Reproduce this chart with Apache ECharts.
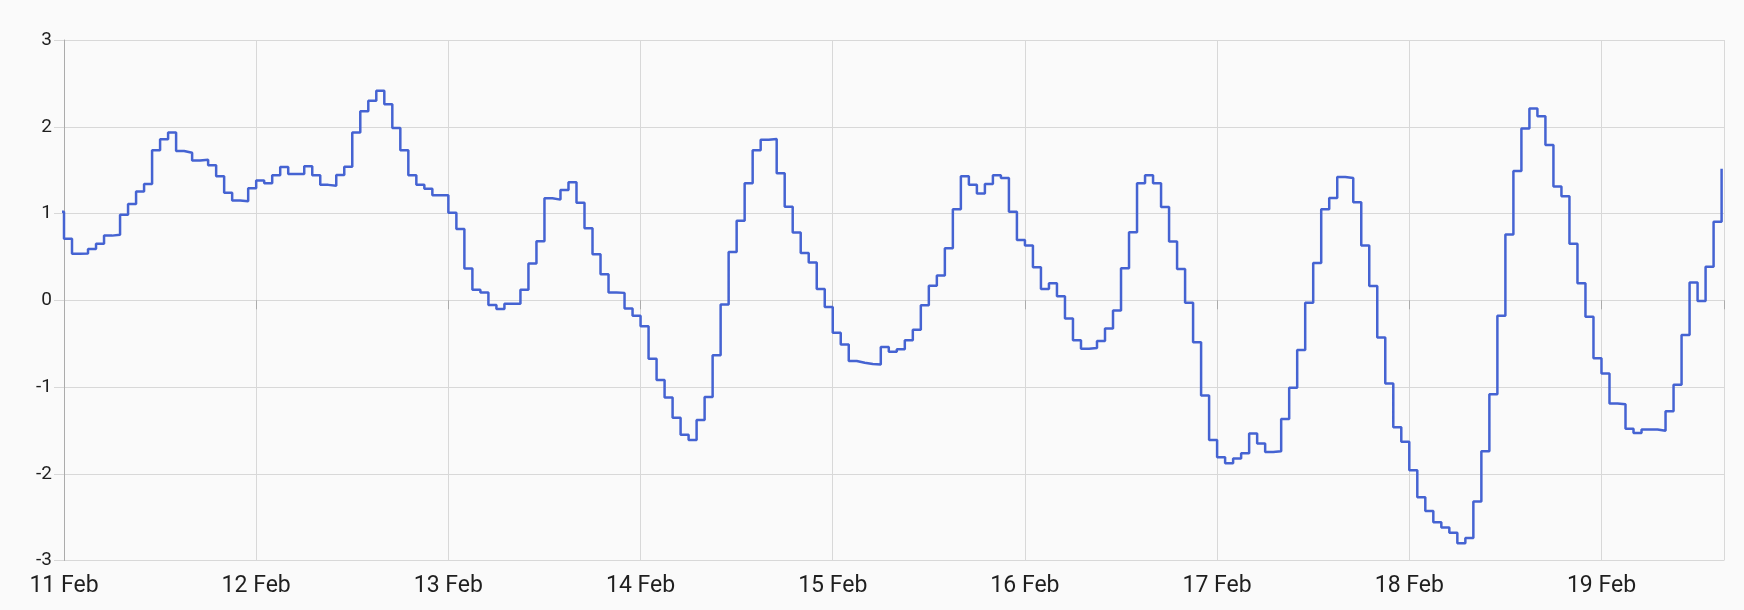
<!DOCTYPE html>
<html>
<head>
<meta charset="utf-8">
<script src="https://cdn.jsdelivr.net/npm/echarts@6/dist/echarts.min.js"></script>
<style>
  html, body { margin: 0; padding: 0; background: #fafafa; }
  #chart { width: 1744px; height: 610px; }
</style>
</head>
<body>
<div id="chart"></div>
<script>
// Tick labels (one per day, x position = day index * 24 hours)
const dayLabels = ['11 Feb', '12 Feb', '13 Feb', '14 Feb', '15 Feb', '16 Feb', '17 Feb', '18 Feb', '19 Feb'];
const yTicks = [-3, -2, -1, 0, 1, 2, 3];

// Hourly values; the value at 10 Feb 23:00 precedes the visible range
const lastHourBefore = 1.02;
const feb11 = [0.71, 0.535, 0.54, 0.59, 0.65, 0.745, 0.755, 0.985, 1.11, 1.255, 1.34, 1.73, 1.855, 1.935, 1.72, 1.70, 1.61, 1.62, 1.555, 1.43, 1.24, 1.15, 1.14, 1.29];
const feb12 = [1.38, 1.35, 1.44, 1.535, 1.455, 1.455, 1.545, 1.44, 1.33, 1.32, 1.445, 1.54, 1.935, 2.18, 2.30, 2.415, 2.26, 1.985, 1.73, 1.44, 1.33, 1.285, 1.21, 1.21];
const feb13 = [1.01, 0.82, 0.365, 0.12, 0.09, -0.055, -0.10, -0.04, -0.04, 0.12, 0.425, 0.68, 1.175, 1.16, 1.27, 1.36, 1.125, 0.83, 0.53, 0.30, 0.09, 0.085, -0.095, -0.18];
const feb14 = [-0.30, -0.675, -0.92, -1.12, -1.355, -1.55, -1.61, -1.38, -1.115, -0.635, -0.05, 0.557, 0.917, 1.35, 1.73, 1.85, 1.86, 1.465, 1.078, 0.78, 0.545, 0.435, 0.13, -0.077];
const feb15 = [-0.375, -0.51, -0.70, -0.72, -0.735, -0.74, -0.54, -0.595, -0.565, -0.46, -0.34, -0.057, 0.167, 0.284, 0.60, 1.05, 1.43, 1.33, 1.23, 1.34, 1.44, 1.41, 1.02, 0.695];
const feb16 = [0.63, 0.38, 0.13, 0.197, 0.045, -0.21, -0.46, -0.56, -0.55, -0.47, -0.325, -0.117, 0.37, 0.784, 1.35, 1.44, 1.35, 1.076, 0.678, 0.36, -0.03, -0.485, -1.097, -1.61];
const feb17 = [-1.81, -1.88, -1.825, -1.765, -1.535, -1.65, -1.75, -1.74, -1.37, -1.008, -0.574, -0.03, 0.428, 1.05, 1.18, 1.42, 1.41, 1.13, 0.63, 0.163, -0.43, -0.96, -1.465, -1.63];
const feb18 = [-1.96, -2.27, -2.43, -2.56, -2.62, -2.68, -2.80, -2.74, -2.32, -1.74, -1.085, -0.18, 0.758, 1.49, 1.98, 2.21, 2.12, 1.79, 1.31, 1.20, 0.65, 0.197, -0.19, -0.67];
const feb19 = [-0.845, -1.19, -1.20, -1.48, -1.53, -1.49, -1.49, -1.505, -1.28, -0.973, -0.40, 0.205, -0.01, 0.386, 0.905, 1.515];

const days = [feb11, feb12, feb13, feb14, feb15, feb16, feb17, feb18, feb19];
const seriesData = [[-1, lastHourBefore]];
days.forEach(function (arr, d) {
  arr.forEach(function (v, h) { seriesData.push([d * 24 + h, v]); });
});

const X_MAX = 207.3; // axis ends a little after 19 Feb 15:00
const GRID = '#d8d8d8';
const AXIS = '#ababab';
const TEXT = '#1f1f1f';

const chart = echarts.init(document.getElementById('chart'), null, { renderer: 'canvas' });
chart.setOption({
  backgroundColor: '#fafafa',
  animation: false,
  textStyle: { fontFamily: 'Roboto' },
  grid: { left: 64, right: 20, top: 40, bottom: 49.5, containLabel: false },
  xAxis: [
    {
      type: 'value', min: 0, max: X_MAX, interval: 24, position: 'bottom',
      axisLine: { show: false, onZero: false },
      axisTick: { show: false },
      axisLabel: {
        fontSize: 23, color: TEXT, margin: 14, fontFamily: 'Roboto',
        formatter: function (v) { return (v % 24 === 0 && dayLabels[v / 24]) ? dayLabels[v / 24] : ''; }
      },
      splitLine: { show: true, lineStyle: { color: GRID, width: 1 } }
    },
    {
      type: 'value', min: 0, max: X_MAX, interval: 24, position: 'bottom',
      axisLine: { show: true, onZero: true, lineStyle: { color: 'rgba(0,0,0,0)' } },
      axisTick: { show: true, length: 9, lineStyle: { color: AXIS, width: 1 } },
      axisLabel: { show: false },
      splitLine: { show: false }
    }
  ],
  yAxis: {
    type: 'value', min: yTicks[0], max: yTicks[yTicks.length - 1], interval: 1,
    axisLine: { show: true, onZero: false, lineStyle: { color: AXIS, width: 1 } },
    axisTick: { show: true, length: 10, lineStyle: { color: GRID, width: 1 } },
    axisLabel: { fontSize: 19, color: TEXT, margin: 12, fontFamily: 'Roboto' },
    splitLine: { show: true, lineStyle: { color: GRID, width: 1 } }
  },
  series: [{
    type: 'line',
    step: 'end',
    xAxisIndex: 0,
    yAxisIndex: 0,
    data: seriesData,
    showSymbol: false,
    symbol: 'none',
    clip: true,
    lineStyle: { color: '#4563d2', width: 2.5 }
  }]
});
</script>
</body>
</html>
